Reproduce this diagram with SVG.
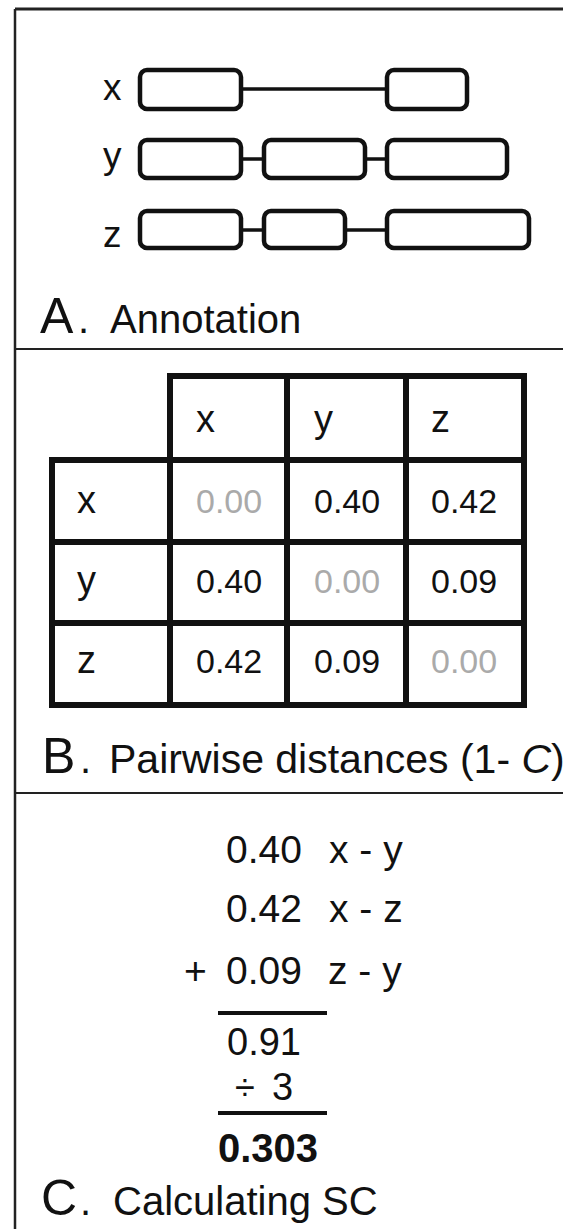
<svg xmlns="http://www.w3.org/2000/svg" width="563" height="1229" viewBox="0 0 563 1229">
<style>
text{font-family:"Liberation Sans",Arial,sans-serif;fill:#111}
.frame{stroke:#222;fill:none}
.ex{fill:#fff;stroke:#111;stroke-width:4.5}
.lnk{stroke:#111;stroke-width:3.5}
.lbl{font-size:37px}
.big{font-size:50px}
.cap{font-size:40px}
.tbl{stroke:#111;stroke-width:6;stroke-linecap:square;fill:none}
.th{font-size:38px}
.v{font-size:34px}
.g{fill:#aaa}
.eq{font-size:39px}
.bar{stroke:#111;stroke-width:4}
</style>
<g id="frame">
<line class="frame" x1="15" y1="9" x2="563" y2="9" stroke-width="3"/>
<line class="frame" x1="15" y1="9" x2="15" y2="1229" stroke-width="2.5"/>
<line class="frame" x1="15" y1="349" x2="563" y2="349" stroke-width="2.2"/>
<line class="frame" x1="15" y1="793" x2="563" y2="793" stroke-width="2.2"/>
</g>
<g id="connectors">
<line class="lnk" x1="243" y1="89" x2="385" y2="89"/>
<line class="lnk" x1="243" y1="159" x2="262" y2="159"/>
<line class="lnk" x1="367" y1="159" x2="385" y2="159"/>
<line class="lnk" x1="243" y1="230" x2="262" y2="230"/>
<line class="lnk" x1="347" y1="230" x2="385" y2="230"/>
</g>
<g id="gene-x">
<text class="lbl" x="103" y="100">x</text>
<rect class="ex" x="140" y="70" width="101" height="39" rx="7"/>
<rect class="ex" x="387" y="70" width="80" height="39" rx="7"/>
</g>
<g id="gene-y">
<text class="lbl" x="103" y="168">y</text>
<rect class="ex" x="140" y="140" width="101" height="38" rx="7"/>
<rect class="ex" x="264" y="140" width="101" height="38" rx="7"/>
<rect class="ex" x="387" y="140" width="120" height="38" rx="7"/>
</g>
<g id="gene-z">
<text class="lbl" x="103" y="247">z</text>
<rect class="ex" x="140" y="211" width="101" height="37" rx="7"/>
<rect class="ex" x="264" y="211" width="81" height="37" rx="7"/>
<rect class="ex" x="387" y="211" width="142" height="37" rx="7"/>
</g>
<g id="caption-a">
<text x="40" y="333"><tspan class="big">A</tspan><tspan class="cap" x="78">.</tspan><tspan class="cap" x="110">Annotation</tspan></text>
</g>
<g id="table">
<path class="tbl" d="M170 376H524M52 460H524M52 542H524M52 623H524M52 705H524M52 460V705M170 376V705M287 376V705M406 376V705M524 376V705"/>
<text class="th" x="196" y="432">x</text>
<text class="th" x="314" y="432">y</text>
<text class="th" x="431" y="432">z</text>
<text class="th" x="77" y="513">x</text>
<text class="th" x="77" y="593">y</text>
<text class="th" x="77" y="673">z</text>
<text class="v g" x="196" y="513">0.00</text>
<text class="v" x="314" y="513">0.40</text>
<text class="v" x="431" y="513">0.42</text>
<text class="v" x="196" y="593">0.40</text>
<text class="v g" x="314" y="593">0.00</text>
<text class="v" x="431" y="593">0.09</text>
<text class="v" x="196" y="673">0.42</text>
<text class="v" x="314" y="673">0.09</text>
<text class="v g" x="431" y="673">0.00</text>
</g>
<g id="caption-b">
<text x="42" y="773"><tspan class="big">B</tspan><tspan class="cap" x="80">.</tspan><tspan x="109" font-size="41">Pairwise distances (1- <tspan font-style="italic">C</tspan>)</tspan></text>
</g>
<g id="calc">
<text class="eq" x="226" y="863">0.40</text>
<text class="eq" x="329" y="863">x - y</text>
<text class="eq" x="226" y="922">0.42</text>
<text class="eq" x="329" y="922">x - z</text>
<text class="eq" x="184" y="984">+</text>
<text class="eq" x="226" y="984">0.09</text>
<text class="eq" x="328" y="984">z - y</text>
<line class="bar" x1="218" y1="1013" x2="327" y2="1013"/>
<text x="227" y="1055" font-size="38">0.91</text>
<text x="235" y="1100" font-size="36">÷</text>
<text x="272" y="1100" font-size="38">3</text>
<line class="bar" x1="218" y1="1113" x2="327" y2="1113"/>
<text x="218" y="1162" font-size="40" font-weight="bold">0.303</text>
</g>
<g id="caption-c">
<text x="41" y="1215"><tspan class="big">C</tspan><tspan class="cap" x="80">.</tspan><tspan class="cap" x="113">Calculating SC</tspan></text>
</g>
</svg>
